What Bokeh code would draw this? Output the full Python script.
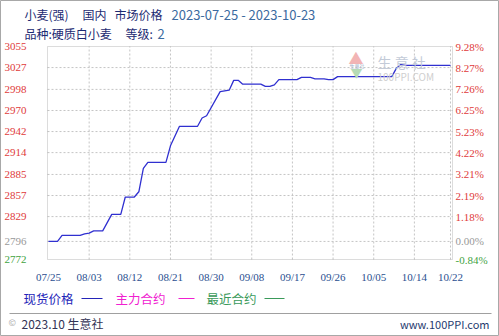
import pandas as pd
from bokeh.plotting import figure
from bokeh.models import Range1d, Label, LabelSet, ColumnDataSource, BoxAnnotation
from bokeh.embed import file_html
from bokeh.resources import INLINE

# ---- data ----
dates = ["2023-07-25", "2023-07-27", "2023-07-28", "2023-08-01", "2023-08-02", "2023-08-03",
         "2023-08-04", "2023-08-06", "2023-08-08", "2023-08-10", "2023-08-11", "2023-08-13",
         "2023-08-14", "2023-08-15", "2023-08-16", "2023-08-20", "2023-08-21", "2023-08-23",
         "2023-08-27", "2023-08-28", "2023-08-29", "2023-09-01", "2023-09-03", "2023-09-04",
         "2023-09-05", "2023-09-06", "2023-09-10", "2023-09-11", "2023-09-12", "2023-09-13",
         "2023-09-14", "2023-09-18", "2023-09-19", "2023-09-21", "2023-09-22", "2023-09-24",
         "2023-09-25", "2023-09-26", "2023-09-27", "2023-10-09", "2023-10-10", "2023-10-11",
         "2023-10-12", "2023-10-22"]
spot_price = [2796, 2796, 2804, 2804, 2806, 2807,
              2810, 2810, 2832, 2832, 2855, 2855,
              2862, 2893, 2901, 2901, 2923, 2949,
              2949, 2960, 2963, 2995, 2997, 3010,
              3010, 3005, 3005, 3002, 3002, 3004,
              3011, 3011, 3014, 3014, 3012, 3012,
              3011, 3011, 3015, 3015, 3026, 3031,
              3030, 3030]

x_tick_dates = ["2023-07-25", "2023-08-03", "2023-08-12", "2023-08-21", "2023-08-30", "2023-09-08",
                "2023-09-17", "2023-09-26", "2023-10-05", "2023-10-14", "2023-10-22"]
y_ticks = [3055, 3027, 2998, 2970, 2942, 2914, 2885, 2857, 2829, 2796, 2772]
y_tick_labels = ["3055", "3027", "2998", "2970", "2942", "2914", "2885", "2857", "2829", "2796", "2772"]
pct_labels = ["9.28%", "8.27%", "7.26%", "6.25%", "5.23%", "4.22%", "3.21%", "2.19%", "1.18%",
              "0.00%", "-0.84%"]
label_colors = ["#e03a3a"] * 9 + ["#999999", "#3fa33f"]

title_parts = ["小麦(强)", "国内", "市场价格"]
title_dates = "2023-07-25 - 2023-10-23"
subtitle_parts = ["品种:硬质白小麦", "等级:"]
subtitle_grade = "2"
legend_names = ["现货价格", "主力合约", "最近合约"]
legend_colors = ["#2424b8", "#f020d0", "#3a9a5a"]

FONT = "Noto Sans CJK SC"
W, H = 499, 336

x = pd.to_datetime(dates)
xt = pd.to_datetime(x_tick_dates)
x_tick_text = [d.strftime("%m/%d") for d in xt]
day = pd.Timedelta(days=1)

# plot box geometry (pixels) -> ranges so the whole canvas is the frame
PX_PER_DAY = 4.517
box_left_px, box_right_px, box_top_px, box_bot_px = 47, 452, 46, 259
ymin, ymax = y_ticks[-1], y_ticks[0]
u_per_px = (ymax - ymin) / (box_bot_px - box_top_px)
x0 = xt[0] - (48 / PX_PER_DAY) * day
x1 = x0 + (W / PX_PER_DAY) * day
box_l = xt[0] - ((48 - box_left_px) / PX_PER_DAY) * day
box_r = xt[0] + ((box_right_px - 48) / PX_PER_DAY) * day

p = figure(width=W, height=H, output_backend="svg", toolbar_location=None,
           x_axis_type="datetime",
           x_range=Range1d(x0, x1),
           y_range=Range1d(ymin - (H - box_bot_px) * u_per_px, ymax + box_top_px * u_per_px),
           min_border=0)
p.xaxis.visible = False
p.yaxis.visible = False
p.grid.visible = False
p.background_fill_color = "white"
p.border_fill_color = "white"
p.outline_line_color = "#a8a8a8"
p.outline_line_width = 1


def screen_label(x, y_top, text, color, size, align="left", font=FONT):
    p.add_layout(Label(x=x, y=H - y_top, x_units="screen", y_units="screen", text=text,
                       text_font=font, text_font_size=size, text_color=color,
                       text_baseline="middle", text_align=align))


def screen_bar(l, r, y_top, color, thick=1.0):
    p.add_layout(BoxAnnotation(left=l, right=r, bottom=H - y_top - thick / 2, top=H - y_top + thick / 2,
                               left_units="screen", right_units="screen",
                               top_units="screen", bottom_units="screen",
                               fill_color=color, fill_alpha=1, line_color=None))


# grid lines (dotted)
grid_x = list(xt[1:])
p.segment(x0=grid_x, x1=grid_x, y0=[ymin] * len(grid_x), y1=[ymax] * len(grid_x),
          line_color="#c4c4c4", line_dash="2 2", line_width=1)
grid_y = y_ticks[1:-1]
p.segment(x0=[box_l] * len(grid_y), x1=[box_r] * len(grid_y), y0=grid_y, y1=grid_y,
          line_color="#c4c4c4", line_dash="2 2", line_width=1)

# plot box
p.add_layout(BoxAnnotation(left=box_l, right=box_r, bottom=ymin, top=ymax,
                           fill_alpha=0, line_color="#8c8c8c", line_width=1))

# watermark (logo + text)
screen_label(348, 57, "▲", "#f2b4b4", "15px")
screen_label(349, 65, "生意社", "#9fb0c8", "5px")
screen_label(350, 72, "▼", "#b6dbb6", "12px")
screen_label(377, 61, "生  意  社", "#c3cbd8", "14px")
screen_label(377, 76, "100PPI.COM", "#cfcfcf", "10px")

# spot price line
p.line(x, spot_price, line_color="#3030d0", line_width=1.3)

# y labels (left and right)
src = ColumnDataSource(dict(y=y_ticks, lab=y_tick_labels, pct=pct_labels, col=label_colors))
p.add_layout(LabelSet(x=4, y="y", x_units="screen", text="lab", source=src,
                      text_color="col", text_font=FONT, text_font_size="11px",
                      text_baseline="middle", text_align="left"))
p.add_layout(LabelSet(x=455, y="y", x_units="screen", text="pct", source=src,
                      text_color="col", text_font=FONT, text_font_size="11px",
                      text_baseline="middle", text_align="left"))

# x labels
xsrc = ColumnDataSource(dict(x=list(xt), t=x_tick_text))
p.add_layout(LabelSet(x="x", y=H - 276, y_units="screen", text="t", source=xsrc,
                      text_color="#2a4f8f", text_font=FONT, text_font_size="11px",
                      text_baseline="middle", text_align="center"))

# titles
for tx, part in zip([24, 82, 114], title_parts):
    screen_label(tx, 14, part, "#1c2a72", "12px")
screen_label(171, 14, title_dates, "#3b6aa0", "13px")
screen_label(24, 33, subtitle_parts[0], "#1c2a72", "12px")
screen_label(125, 33, subtitle_parts[1], "#1c2a72", "12px")
screen_label(157, 33, subtitle_grade, "#3b6aa0", "13px")

# custom legend
leg_text_x = [23, 115, 206]
leg_line_x = [(81, 102), (178, 194), (264, 284)]
for name, col, tx, (l0, l1) in zip(legend_names, legend_colors, leg_text_x, leg_line_x):
    screen_label(tx, 298, name, col, "12.5px")
    screen_bar(l0, l1, 298, col, 1.2)

# footer
screen_bar(9, 491, 313, "#a0a0a0", 1.0)
screen_label(8, 322, "©", "#aaaaaa", "9px")
screen_label(21, 323, "2023.10 生意社", "#333355", "12px")
screen_label(489, 323, "www.100PPI.com", "#1f3a6e", "11px", align="right")

open("out.html", "w").write(file_html(p, INLINE))
